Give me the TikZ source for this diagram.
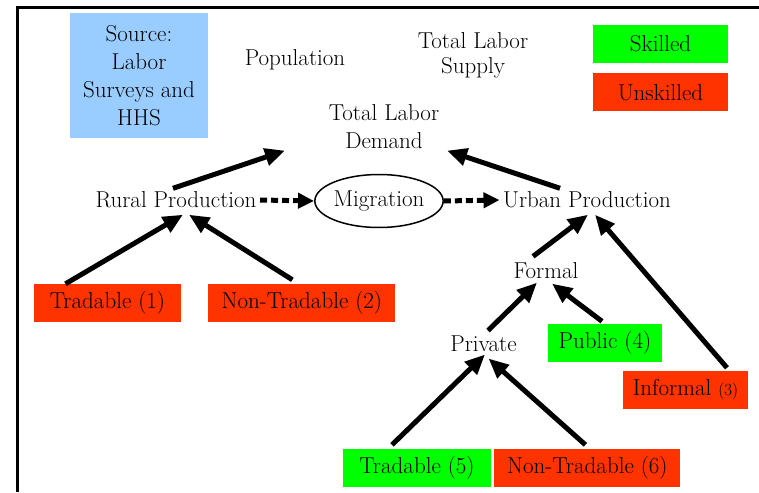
\documentclass[tikz,border=0pt]{standalone}
\usetikzlibrary{shapes.geometric, arrows.meta, positioning}
\definecolor{srcblue}{RGB}{153,204,255}
\definecolor{skillgreen}{RGB}{0,255,0}
\definecolor{unskillred}{RGB}{255,51,0}
\tikzstyle{arrow} = [line width=5pt, -{Triangle[length=20pt,width=17pt]}]
\tikzstyle{migarrow} = [line width=5pt, dash pattern=on 7pt off 4pt, -{Triangle[length=16pt,width=15pt]}]

\begin{document}
\begin{tikzpicture}[x=1pt, y=-1pt,
		colbox/.style={rectangle, minimum height=38pt, inner sep=0pt, fill=#1},
		font=\fontsize{23}{28}\selectfont
		]
		\useasboundingbox (0,0) rectangle (759,492);
		\draw[line width=3pt] (17.5,492) -- (17.5,8) -- (759,8);
		% Header
		\node[colbox=srcblue, minimum width=138pt, minimum height=125pt, align=center] (source) at (139,75.5) {Source:\\Labor\\Surveys and\\HHS};
		\node (population) at (295,60) {Population};
		\node[align=center, font=\fontsize{23}{25}\selectfont] (supply) at (473,55) {Total Labor\\Supply};
		\node[colbox=skillgreen, minimum width=135pt] (skilled) at (660.5,44) {Skilled};
		\node[colbox=unskillred, minimum width=135pt] (unskilled) [below=10pt of skilled] {Unskilled};
		\node[align=center] (demand) at (384,127) {Total Labor\\Demand};
		% Production
		\node (rural) at (176,200) {Rural Production};
		\node[ellipse, draw, line width=1.5pt, minimum width=128pt, minimum height=53pt, inner sep=0pt] (migration) at (379,201) {Migration};
		\node (urban) at (587,200) {Urban Production};
		% Rural sectors
		\node[colbox=unskillred, minimum width=147pt] (trad1) at (107.5,303) {Tradable (1)};
		\node[colbox=unskillred, minimum width=187pt] (nontrad2) [right=27pt of trad1] {Non-Tradable (2)};
		% Urban sectors
		\node (formal) at (546,271) {Formal};
		\node (private) at (483.5,344) {Private};
		\node[colbox=skillgreen, minimum width=114pt] (public) at (605,342.5) {Public (4)};
		\node[colbox=unskillred, minimum width=125pt] (informal) at (685.5,390) {Informal {\fontsize{17}{17}\selectfont(3)}};
		\node[colbox=skillgreen, minimum width=148pt] (trad5) at (417,468) {Tradable (5)};
		\node[colbox=unskillred, minimum width=186pt] (nontrad6) [right=3pt of trad5] {Non-Tradable (6)};
		% Links
		\draw[arrow] ([xshift=-3pt]rural.north) -- ([xshift=-99pt,yshift=2pt]demand.south);
		\draw[arrow] ([xshift=-27pt]urban.north) -- ([xshift=63pt,yshift=2pt]demand.south);
		\draw[migarrow] (rural.east) -- (migration.west);
		\draw[migarrow] (migration.east) -- (urban.west);
		\draw[arrow] ([xshift=-42pt]trad1.north) -- ([xshift=7pt,yshift=-3pt]rural.south);
		\draw[arrow] ([xshift=-9.5pt,yshift=4pt]nontrad2.north) -- ([xshift=13pt,yshift=-3pt]rural.south);
		\draw[arrow] ([xshift=-13pt,yshift=3pt]formal.north) -- ([xshift=1pt,yshift=-3pt]urban.south);
		\draw[arrow] ([xshift=41.5pt,yshift=3pt]informal.north) -- ([xshift=8pt,yshift=-3pt]urban.south);
		\draw[arrow] ([xshift=4.5pt,yshift=2pt]private.north) -- ([xshift=-9pt]formal.south);
		\draw[arrow] ([xshift=-3pt,yshift=2pt]public.north) -- ([xshift=6pt,yshift=-1pt]formal.south);
		\draw[arrow] ([xshift=-25pt,yshift=4pt]trad5.north) -- ([xshift=1.5pt,yshift=1pt]private.south);
		\draw[arrow] ([xshift=-2pt,yshift=4pt]nontrad6.north) -- ([xshift=5pt,yshift=-3pt]private.south);
\end{tikzpicture}
\end{document}
